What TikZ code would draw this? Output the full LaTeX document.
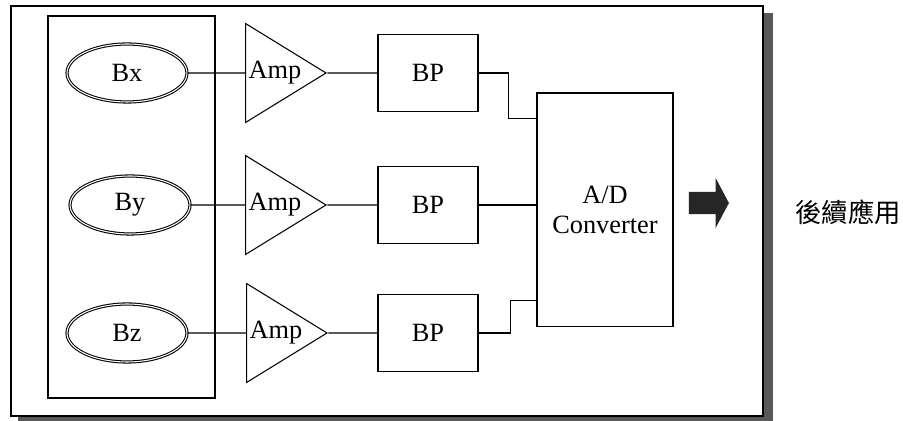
\documentclass[tikz,border=0pt]{standalone}
\usepackage{fontspec}
\setmainfont{Liberation Serif}
\newfontfamily\cjk{Noto Sans CJK TC}
\usetikzlibrary{shapes.geometric, shapes.arrows, calc}

\begin{document}
\begin{tikzpicture}[x=0.02cm, y=-0.02cm, line width=0.6pt,
  lbl/.style={font=\fontsize{15}{17}\selectfont},
  sensor/.style={draw, ellipse, double, double distance=0.6pt, minimum width=2.4cm,
                 minimum height=1.16cm, lbl},
  amp/.style={draw, isosceles triangle, isosceles triangle stretches, inner sep=0pt,
              minimum width=1.98cm, minimum height=1.58cm, lbl},
  bpbox/.style={draw, fill=white, minimum width=2cm, minimum height=1.54cm, lbl},
  adbox/.style={draw, align=center, minimum width=2.72cm, minimum height=4.68cm, lbl},
  wire/.style={line width=0.6pt}
]
\useasboundingbox (0,0) rectangle (903,421);
% frame with shadow
\fill[black!65] (763,13) rectangle (773,421);
\fill[black!65] (18,416) rectangle (773,421);
\draw[fill=white] (11,6) rectangle (763,416);
\draw (48,16) rectangle (215,398);

\node[sensor] (bx) at (127,73)  {Bx};
\node[sensor] (by) at (130,205) {By};
\node[sensor] (bz) at (127,333) {Bz};
\node[amp, anchor=west] (amp1) at (245,73)  {Amp};
\node[amp, anchor=west] (amp2) at (245,205) {Amp};
\node[amp, anchor=west] (amp3) at (246,333) {Amp};
\node[bpbox] (bp1) at (428,73)  {BP};
\node[bpbox] (bp2) at (428,205) {BP};
\node[bpbox] (bp3) at (428,333) {BP};
\node[adbox] (ad) at (605,210) {A/D\\Converter};
\node[single arrow, fill=black!85, inner xsep=0pt, inner ysep=0.21cm, minimum height=0.8cm,
      single arrow head extend=0.28cm, single arrow tip angle=124] (out) at (706,203) {};
\node[font=\cjk\fontsize{15}{17}\selectfont] (app) at (848,212) {後續應用};

\draw[wire] (bx) -- (amp1); \draw[wire] (amp1) -- (bp1);
\draw[wire] (by) -- (amp2); \draw[wire] (amp2) -- (bp2);
\draw[wire] (bz) -- (amp3); \draw[wire] (amp3) -- (bp3);
\draw[wire] (bp1.east) -- ++(30,0) |- ($(ad.north west)+(0,26)$);
\draw[wire] (bp2.east) -- (bp2.east -| ad.west);
\draw[wire] (bp3.east) -- ++(32,0) |- ($(ad.south west)+(0,-27)$);
\end{tikzpicture}
\end{document}
